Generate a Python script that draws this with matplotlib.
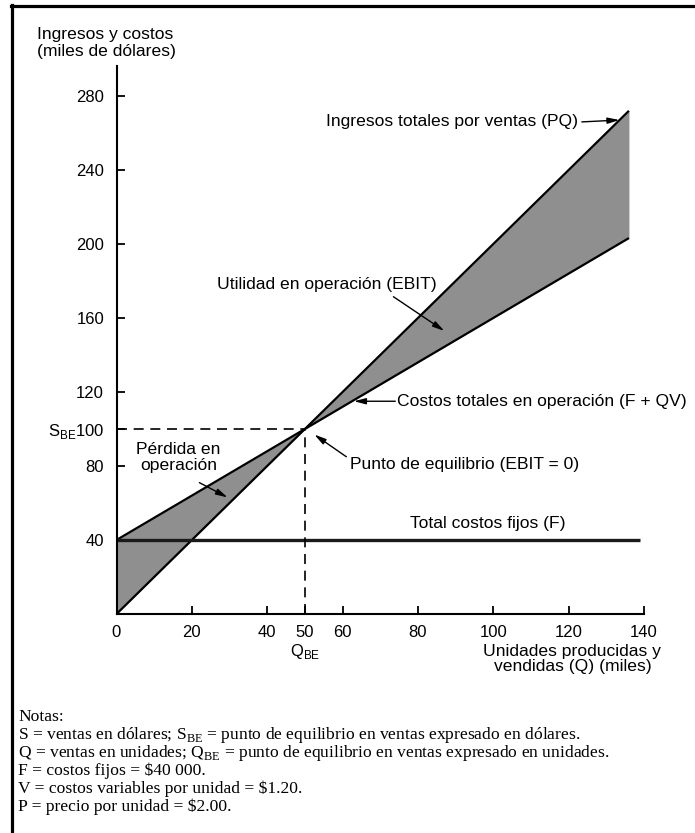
import matplotlib
matplotlib.use("Agg")
import matplotlib.pyplot as plt
from matplotlib.lines import Line2D

plt.rcParams['font.family'] = ['Liberation Sans', 'DejaVu Sans']
plt.rcParams['mathtext.fontset'] = 'custom'
plt.rcParams['mathtext.rm'] = 'Liberation Serif'
plt.rcParams['mathtext.sf'] = 'Liberation Sans'

# miles de unidades / miles de dolares
q = [0, 136]
revenue = [0, 272]           # PQ, P = 2.00
total_cost = [40, 203.2]     # F + QV, V = 1.20
q_fixed = [0, 139]
fixed_cost = [40, 40]        # F
q_be = 50
s_be = 100

x_ticks = [0, 20, 40, 50, 60, 80, 100, 120, 140]
x_labels = ['0', '20', '40', '50', '60', '80', '100', '120', '140']
y_ticks = [40, 80, 100, 120, 160, 200, 240, 280]
y_labels = ['40', '80', r'$\mathsf{S}_{\mathsf{BE}}$100', '120', '160', '200', '240', '280']

notes = [
    "Notas:",
    r"S = ventas en dólares; $\mathrm{S}_{\mathrm{BE}}$ = punto de equilibrio en ventas expresado en dólares.",
    r"Q = ventas en unidades; $\mathrm{Q}_{\mathrm{BE}}$ = punto de equilibrio en ventas expresado en unidades.",
    "F = costos fijos = $40 000.",
    "V = costos variables por unidad = $1.20.",
    "P = precio por unidad = $2.00.",
]

W, H = 695, 833
fig = plt.figure(figsize=(W / 100, H / 100), dpi=100)
fig.patch.set_facecolor('white')

# axes placed in pixels: origin at (116.5, 614), x=140 at 644, 1.85 px per unit in y
ytop = 296
ax = fig.add_axes([116.5 / W, (H - 614) / H, (644 - 116.5) / W, ytop * 1.85 / H])
ax.set_xlim(0, 140)
ax.set_ylim(0, ytop)
ax.set_facecolor('none')
for side in ('top', 'right'):
    ax.spines[side].set_visible(False)
for side in ('left', 'bottom'):
    ax.spines[side].set_linewidth(1.5)

ax.set_xticks(x_ticks)
ax.set_xticklabels(x_labels)
ax.set_yticks(y_ticks)
ax.set_yticklabels(y_labels)
ax.tick_params(direction='in', length=6, width=1.3, labelsize=12, pad=8)
ax.tick_params(axis='y', pad=9)

ax.fill_between(q, revenue, total_cost, color='#8f8f8f', lw=0)
ax.plot(q, revenue, color='black', lw=1.6, solid_capstyle='butt')
ax.plot(q, total_cost, color='black', lw=1.6, solid_capstyle='butt')
ax.plot(q_fixed, fixed_cost, color='#1a1a1a', lw=2.4, solid_capstyle='butt')

ax.plot([0, q_be], [s_be, s_be], color='black', lw=1.2, dashes=(6, 4))
ax.plot([q_be, q_be], [0, s_be], color='black', lw=1.2, dashes=(6, 4))

arrow = dict(arrowstyle='-|>,head_length=0.7,head_width=0.18', color='black',
             lw=1.0, shrinkA=0, shrinkB=0)
fs = 12.6

ax.text(122.5, 266, "Ingresos totales por ventas (PQ)", ha='right', va='center', fontsize=fs)
ax.annotate('', xy=(133.5, 267), xytext=(123.5, 266), arrowprops=arrow)

ax.text(26.7, 178, "Utilidad en operación (EBIT)", ha='left', va='center', fontsize=fs)
ax.annotate('', xy=(87, 153), xytext=(73.5, 171.5), arrowprops=arrow)

ax.text(74.5, 115, "Costos totales en operación (F + QV)", ha='left', va='center', fontsize=fs)
ax.annotate('', xy=(63, 115), xytext=(74, 115), arrowprops=arrow)

ax.text(62, 81, "Punto de equilibrio (EBIT = 0)", ha='left', va='center', fontsize=fs)
ax.annotate('', xy=(52.5, 97), xytext=(61, 85), arrowprops=arrow)

ax.text(16.5, 84.5, "Pérdida en\noperación", ha='center', va='center', fontsize=fs,
        linespacing=1.1)
ax.annotate('', xy=(29.5, 63), xytext=(22, 71), arrowprops=arrow)

ax.text(78, 49, "Total costos fijos (F)", ha='left', va='center', fontsize=fs)

ax.text(q_be, -20.5, r'$\mathsf{Q}_{\mathsf{BE}}$', ha='center', va='center', fontsize=12,
        clip_on=False)
ax.text(121, -24.5, "Unidades producidas y\nvendidas (Q) (miles)", ha='center', va='center',
        multialignment='center', fontsize=fs, linespacing=1.0, clip_on=False)

fig.text(37 / W, 1 - 43 / H, "Ingresos y costos\n(miles de dólares)", ha='left', va='center',
         fontsize=fs, linespacing=1.2)

# notas al pie
y0 = 717
for i, line in enumerate(notes):
    fig.text(18 / W, 1 - (y0 + 18 * i) / H, line, ha='left', va='center',
             family=['Liberation Serif', 'DejaVu Serif'], fontsize=12.6)

# marco de la figura escaneada
fig.add_artist(Line2D([11.5 / W, 11.5 / W], [0, 1 - 5 / H], color='black', lw=2.3,
                      transform=fig.transFigure))
fig.add_artist(Line2D([10.5 / W, 1], [1 - 5.5 / H, 1 - 5.5 / H], color='black', lw=2.3,
                      transform=fig.transFigure))

fig.savefig('out.png', dpi=100)
